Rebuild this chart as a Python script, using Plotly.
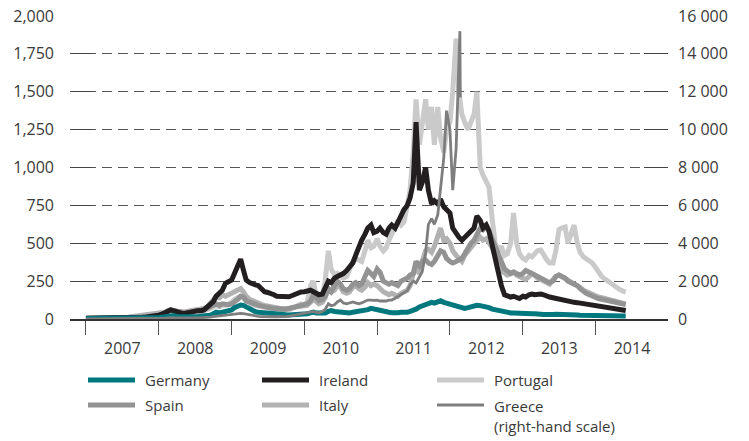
import plotly.graph_objects as go
import pandas as pd

# ---------------- data (5-year CDS, basis points) ----------------
DATES = pd.date_range("2007-01-01", "2014-06-01", freq="SMS")  # 1st & 15th of each month

GERMANY = [
    3, 3, 3, 3, 3, 3, 3, 3, 3, 3, 3, 3, 3, 4, 5, 6, 6, 7, 6, 6, 7, 7, 8, 9,
    10, 12, 14, 15, 20, 22, 15, 14, 12, 12, 14, 15, 15, 16, 18, 18, 22, 25, 35, 45, 40, 45, 50, 55,
    60, 75, 85, 92, 90, 80, 65, 55, 48, 45, 42, 40, 38, 36, 34, 33, 32, 30, 28, 27, 28, 30, 28, 27,
    30, 35, 40, 45, 40, 38, 35, 40, 50, 55, 50, 48, 45, 42, 38, 40, 45, 48, 45, 50, 55, 62, 70, 65,
    60, 55, 50, 48, 45, 42, 40, 42, 45, 43, 45, 50, 55, 65, 80, 85, 95, 100, 110, 105, 115, 120, 110, 105,
    95, 90, 85, 80, 75, 70, 75, 80, 85, 90, 88, 85, 82, 75, 65, 60, 55, 50, 45, 42, 40, 40, 38, 36,
    35, 38, 36, 34, 35, 36, 33, 30, 30, 28, 30, 32, 30, 28, 27, 26, 28, 27, 26, 25, 25, 24, 25, 24,
    26, 25, 24, 23, 22, 22, 21, 20, 20, 19, 19,
]

IRELAND = [
    5, 5, 6, 8, 10, 10, 8, 6, 5, 5, 5, 5, 5, 6, 8, 8, 8, 10, 10, 12, 14, 15, 18, 20,
    25, 30, 40, 50, 60, 55, 45, 40, 35, 38, 45, 50, 50, 55, 55, 60, 80, 95, 114, 150, 170, 190, 236, 245,
    257, 300, 350, 395, 323, 257, 240, 230, 225, 220, 200, 180, 175, 170, 160, 150, 147, 145, 147, 147, 155, 165, 172, 178,
    180, 185, 190, 180, 170, 160, 165, 200, 250, 240, 270, 280, 290, 300, 320, 340, 370, 420, 480, 520, 560, 600, 620, 570,
    580, 600, 570, 560, 600, 620, 600, 640, 680, 720, 750, 800, 900, 1300, 850, 900, 1000, 850, 760, 780, 760, 790, 740, 720,
    700, 600, 560, 540, 520, 540, 560, 580, 600, 680, 650, 600, 620, 580, 480, 400, 300, 220, 160, 150, 145, 150, 140, 135,
    150, 145, 160, 165, 160, 165, 165, 160, 150, 145, 140, 135, 130, 125, 120, 118, 115, 110, 108, 105, 100, 98, 95, 92,
    90, 88, 85, 82, 80, 75, 72, 68, 64, 60, 56,
]

PORTUGAL = [
    5, 5, 5, 5, 5, 5, 5, 5, 5, 6, 6, 6, 6, 7, 8, 10, 12, 14, 15, 16, 18, 18, 20, 22,
    25, 30, 40, 45, 55, 50, 45, 40, 35, 38, 40, 45, 50, 50, 55, 55, 60, 70, 80, 90, 80, 90, 90, 100,
    110, 130, 140, 150, 140, 120, 110, 95, 90, 85, 80, 75, 70, 65, 65, 65, 65, 60, 60, 60, 70, 80, 85, 100,
    95, 110, 220, 250, 150, 140, 150, 250, 450, 330, 290, 300, 280, 270, 280, 320, 380, 400, 390, 380, 450, 520, 470, 480,
    530, 480, 450, 470, 520, 560, 600, 650, 620, 640, 750, 850, 1100, 1450, 1150, 1300, 1450, 1250, 1400, 1150, 1400, 1200, 1100, 1250,
    1300, 1500, 1850, 1500, 1350, 1300, 1250, 1300, 1350, 1500, 1000, 950, 900, 870, 650, 500, 450, 480, 420, 430, 500, 700, 500, 430,
    400, 390, 420, 410, 430, 450, 455, 420, 390, 370, 370, 450, 590, 600, 607, 500, 580, 620, 500, 440, 410, 400, 380, 370,
    340, 310, 280, 265, 250, 235, 220, 211, 195, 185, 178,
]

SPAIN = [
    3, 3, 3, 3, 3, 3, 3, 3, 3, 4, 4, 4, 4, 5, 6, 8, 10, 12, 12, 14, 15, 16, 18, 20,
    25, 30, 40, 50, 60, 55, 50, 45, 40, 42, 45, 50, 55, 55, 60, 62, 70, 75, 90, 100, 90, 100, 95, 95,
    100, 110, 130, 150, 145, 120, 110, 100, 95, 90, 85, 80, 80, 75, 70, 70, 65, 65, 65, 70, 75, 80, 85, 90,
    95, 100, 120, 160, 140, 120, 130, 150, 200, 180, 220, 250, 230, 200, 190, 200, 230, 240, 220, 230, 280, 320, 300, 280,
    330, 310, 250, 240, 230, 240, 230, 220, 250, 260, 270, 290, 300, 380, 350, 380, 390, 370, 360, 380, 420, 450, 440, 400,
    380, 370, 380, 390, 400, 430, 470, 500, 520, 560, 600, 590, 620, 580, 520, 480, 420, 380, 330, 320, 300, 310, 300, 290,
    300, 320, 310, 300, 290, 280, 270, 260, 250, 240, 250, 280, 290, 280, 270, 250, 240, 230, 220, 200, 180, 170, 160, 150,
    140, 135, 130, 125, 120, 115, 110, 105, 100, 98, 95,
]

ITALY = [
    5, 5, 5, 5, 5, 5, 5, 5, 6, 6, 6, 6, 8, 10, 12, 15, 18, 20, 20, 20, 22, 25, 28, 30,
    35, 38, 45, 55, 60, 55, 50, 48, 45, 48, 55, 60, 60, 62, 65, 70, 80, 100, 120, 150, 140, 160, 150, 160,
    170, 180, 190, 200, 180, 150, 130, 120, 110, 100, 95, 90, 85, 80, 75, 72, 70, 70, 68, 70, 75, 78, 80, 85,
    85, 90, 110, 130, 115, 100, 110, 140, 200, 180, 190, 220, 210, 180, 170, 180, 210, 220, 200, 190, 210, 240, 220, 230,
    220, 200, 180, 170, 160, 170, 160, 150, 170, 180, 190, 220, 300, 330, 300, 380, 450, 460, 440, 480, 550, 600, 520, 530,
    500, 450, 420, 400, 380, 420, 450, 480, 500, 520, 540, 520, 530, 500, 470, 420, 350, 320, 300, 290, 300, 310, 290, 280,
    270, 260, 280, 300, 290, 270, 260, 250, 240, 230, 260, 280, 290, 280, 260, 250, 240, 230, 220, 210, 190, 180, 170, 160,
    150, 145, 140, 135, 130, 125, 120, 115, 110, 105, 100,
]

# Greece is on the right-hand scale and its series stops in early 2012
GREECE = [
    10, 10, 10, 10, 10, 10, 10, 10, 10, 10, 10, 10, 10, 12, 15, 20, 22, 22, 20, 20, 22, 22, 25, 25,
    30, 35, 45, 55, 70, 65, 55, 50, 45, 45, 50, 55, 55, 60, 60, 65, 80, 100, 130, 150, 140, 180, 200, 230,
    250, 270, 300, 300, 280, 250, 220, 180, 160, 140, 130, 120, 130, 125, 120, 120, 115, 120, 130, 150, 170, 200, 250, 280,
    300, 320, 350, 400, 350, 330, 400, 500, 800, 700, 750, 900, 1000, 850, 800, 850, 900, 850, 800, 850, 950, 1000, 1000, 980,
    1000, 950, 950, 950, 1000, 1000, 1100, 1200, 1300, 1400, 1500, 1800, 2000, 1900, 2200, 2500, 3500, 5000, 5300, 5000, 5500, 7000, 8500, 11000,
    10000, 6800, 9000, 15200, 11700,
]
GREECE_LATE_DATES = ["2012-02-20", "2012-02-22"]

LEFT_TICKS = [0, 250, 500, 750, 1000, 1250, 1500, 1750, 2000]
LEFT_LABELS = ["0", "250", "500", "750", "1,000", "1,250", "1,500", "1,750", "2,000"]
RIGHT_TICKS = [0, 2000, 4000, 6000, 8000, 10000, 12000, 14000, 16000]
RIGHT_LABELS = ["0", "2 000", "4 000", "6 000", "8 000", "10 000", "12 000", "14 000", "16 000"]

# ---------------- styling ----------------
TEXT = "#3a3a3a"
FONT = "Open Sans"
C_GER, C_IRL, C_POR = "#00787e", "#231f20", "#cacaca"
C_ESP, C_ITA, C_GRC = "#939393", "#b2b2b2", "#7e7e7e"
W = 5

greece_x = list(DATES[: len(GREECE) - len(GREECE_LATE_DATES)]) + [pd.Timestamp(d) for d in GREECE_LATE_DATES]

fig = go.Figure()
def add(x, y, color, width, axis="y"):
    fig.add_trace(go.Scatter(x=x, y=y, mode="lines", yaxis=axis, showlegend=False,
                             hoverinfo="skip", line=dict(color=color, width=width)))

add(DATES, PORTUGAL, C_POR, W)
add(greece_x, GREECE, C_GRC, 2.8, "y2")
add(DATES, ITALY, C_ITA, W)
add(DATES, SPAIN, C_ESP, W)
add(DATES, IRELAND, C_IRL, W)
add(DATES, GERMANY, C_GER, W)

# the page body adds an 8px offset, so the figure is 741x433 and all
# pixel positions below are in figure coordinates (screen minus 8px)
FW, FH = 741, 433
L, R, T, B = 62, 660, 8, 311
def pxx(p): return (p - L) / (R - L)
def pxy(p): return (B - p) / (B - T)

# manual legend (3 columns x 2 rows)
legend_items = [
    ("Germany", C_GER, 5, 80, 372),
    ("Ireland", C_IRL, 5, 254, 372),
    ("Portugal", C_POR, 5, 429, 372),
    ("Spain", C_ESP, 5, 80, 397),
    ("Italy", C_ITA, 5, 254, 397),
    ("Greece<br>(right-hand scale)", C_GRC, 3, 429, 397),
]
shapes, annots = [], []
for name, col, lw, x0, yy in legend_items:
    shapes.append(dict(type="line", xref="paper", yref="paper",
                       x0=pxx(x0), x1=pxx(x0 + 47), y0=pxy(yy), y1=pxy(yy),
                       line=dict(color=col, width=lw)))
    multi = "<br>" in name
    annots.append(dict(xref="paper", yref="paper", x=pxx(x0 + 55), y=pxy(yy - 11) if multi else pxy(yy),
                       xanchor="left", yanchor="top" if multi else "middle", text=name,
                       showarrow=False, align="left",
                       font=dict(family=FONT, size=15, color=TEXT)))

fig.update_layout(
    width=FW, height=FH,
    margin=dict(l=L, r=FW - R, t=T, b=FH - B, autoexpand=False),
    paper_bgcolor="white", plot_bgcolor="white",
    font=dict(family=FONT, size=16, color=TEXT),
    showlegend=False,
    shapes=shapes, annotations=annots,
    xaxis=dict(
        type="date", range=["2006-10-13", "2014-12-30"], automargin=False,
        tick0="2007-01-01", dtick="M12", tickformat="%Y", ticklabelmode="period",
        ticks="outside", ticklen=14, tickcolor="#555555", tickwidth=1,
        showline=True, linecolor="#333333", linewidth=1.5,
        showgrid=False, zeroline=False,
        tickfont=dict(family=FONT, size=16, color=TEXT),
    ),
    yaxis=dict(
        range=[0, 2000], tickvals=LEFT_TICKS, ticktext=LEFT_LABELS, automargin=False,
        ticks="inside", ticklen=22, tickcolor="#444444", tickwidth=1,
        showgrid=True, gridcolor="#555555", gridwidth=1, griddash="10px,6px",
        zeroline=False, showline=False, ticklabelstandoff=15, ticklabeloverflow="allow",
        tickfont=dict(family=FONT, size=16, color=TEXT),
    ),
    yaxis2=dict(
        overlaying="y", side="right", range=[0, 16000], automargin=False,
        tickvals=RIGHT_TICKS, ticktext=RIGHT_LABELS,
        ticks="inside", ticklen=24, tickcolor="#444444", tickwidth=1,
        showgrid=False, zeroline=False, showline=False, ticklabelstandoff=9,
        ticklabeloverflow="allow",
        tickfont=dict(family=FONT, size=16, color=TEXT),
    ),
)

fig.write_html("out.html")
